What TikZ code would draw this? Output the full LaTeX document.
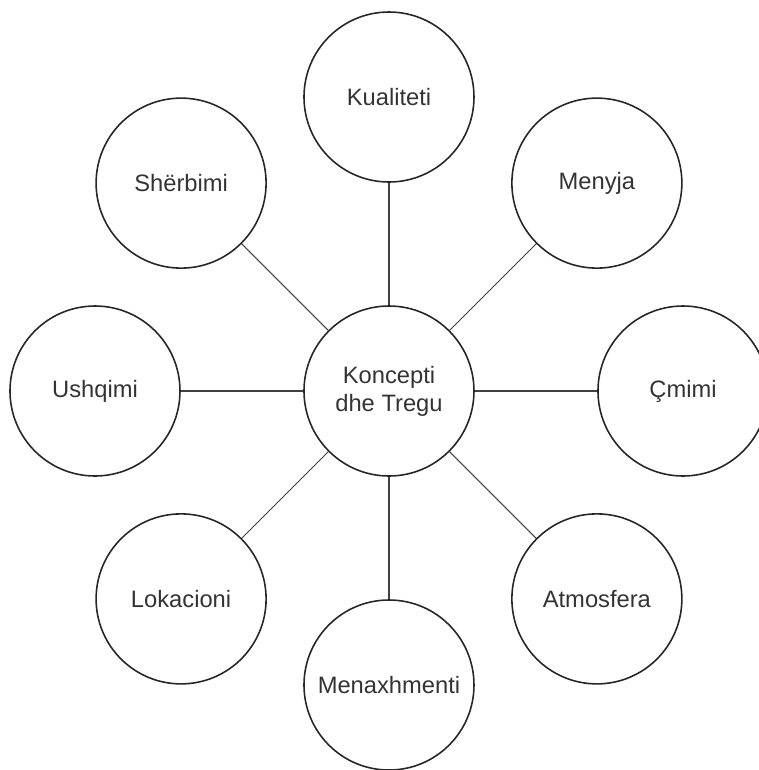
\documentclass[tikz,border=0pt]{standalone}
\usepackage{fontspec}
\setmainfont{Liberation Sans}
\begin{document}
\begin{tikzpicture}[
        bubble/.style={draw=black!85, line width=0.9pt, circle,
            minimum size=3.4cm, inner sep=0pt, align=center,
            font=\fontsize{13.5}{16}\selectfont, text=black!80},
        spoke/.style={draw=black!75, line width=0.6pt}
    ]
    \useasboundingbox (-7.78,-7.58) rectangle (7.4,7.82);
    % centre
    \node[bubble] (koncepti) at (0,0) {Koncepti\\dhe Tregu};
    % ring of eight around it
    \foreach \ang/\nm/\txt in {90/kualiteti/Kualiteti, 45/menyja/Menyja,
            0/cmimi/Çmimi, -45/atmosfera/Atmosfera, -90/menaxhmenti/Menaxhmenti,
            -135/lokacioni/Lokacioni, 180/ushqimi/Ushqimi, 135/sherbimi/Shërbimi}{
        \node[bubble] (\nm) at (\ang:5.88) {\txt};
        \draw[spoke] (koncepti) -- (\nm);
    }
\end{tikzpicture}
\end{document}
